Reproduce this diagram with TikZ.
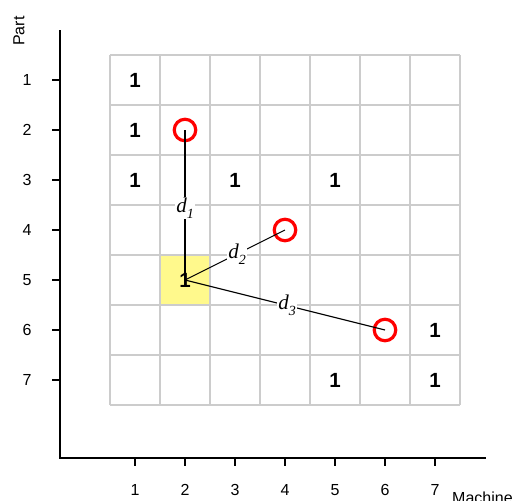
\documentclass[tikz,border=0pt]{standalone}
\usepackage{fontspec}
\setmainfont{Liberation Serif}
\newfontfamily\arialf{Liberation Sans}
\begin{document}
\begin{tikzpicture}[x=1pt,y=-1pt,
  gridline/.style={draw=black!20, line width=1.2pt},
  axisline/.style={draw=black, line width=1.4pt},
  tickline/.style={draw=black, line width=1.1pt},
  ticklab/.style={font=\arialf\fontsize{16}{16}\selectfont, inner sep=0pt},
  one/.style={font=\arialf\bfseries\fontsize{20.5}{20.5}\selectfont, inner sep=0pt},
  ring/.style={circle, draw=red, line width=3.2pt, minimum size=21.5pt, inner sep=0pt},
  conn/.style={draw=black, line width=1.1pt},
  dlab/.style={fill=white, inner sep=1pt, font=\fontsize{21}{21}\selectfont\itshape},
  hilite/.style={fill=yellow!45, draw=none}
]
\useasboundingbox (0,0) rectangle (515,501);
% highlighted cell
\fill[hilite] (160,255) rectangle (210,305);
% grid
\foreach \i in {0,...,7} {
  \draw[gridline] (110+50*\i,55) -- (110+50*\i,405);
  \draw[gridline] (110,55+50*\i) -- (460,55+50*\i);
}
% axes
\coordinate (ytop) at (60,30);
\coordinate (origin) at (60,458);
\coordinate (xend) at (486,458);
\draw[axisline] (ytop) -- (origin) -- (xend);
\foreach \k in {1,...,7} {
  \draw[tickline] (52,30+50*\k) -- (60,30+50*\k);
  \node[ticklab] (yl\k) at (27,30+50*\k) {\k};
  \draw[tickline] (85+50*\k,458) -- (85+50*\k,466);
  \node[ticklab] (xl\k) at (85+50*\k,490) {\k};
}
\node[ticklab, rotate=90] (ylab) at (19,31) {Part};
\node[ticklab, anchor=base west] (xlab) at (452,503) {Machine};
% ones
\foreach \c/\r in {1/1,1/2,1/3,3/3,5/3,7/6,5/7,7/7} {
  \node[one] (o\c\r) at (85+50*\c,30+50*\r) {1};
}
% rings
\node[ring] (t1) at (185,130) {};
\node[ring] (t2) at (285,230) {};
\node[ring] (t3) at (385,330) {};
% connectors
\coordinate (p) at (185,280);
\draw[conn] (p) -- (t1.center) node[dlab, pos=0.48] {d\raisebox{-0.28em}{\fontsize{14}{14}\selectfont 1}};
\draw[conn] (p) -- (t2.center) node[dlab, pos=0.52] {d\raisebox{-0.28em}{\fontsize{14}{14}\selectfont 2}};
\draw[conn] (p) -- (t3.center) node[dlab, pos=0.51] {d\raisebox{-0.28em}{\fontsize{14}{14}\selectfont 3}};
\node[one] (o25) at (p) {1};
\end{tikzpicture}
\end{document}
